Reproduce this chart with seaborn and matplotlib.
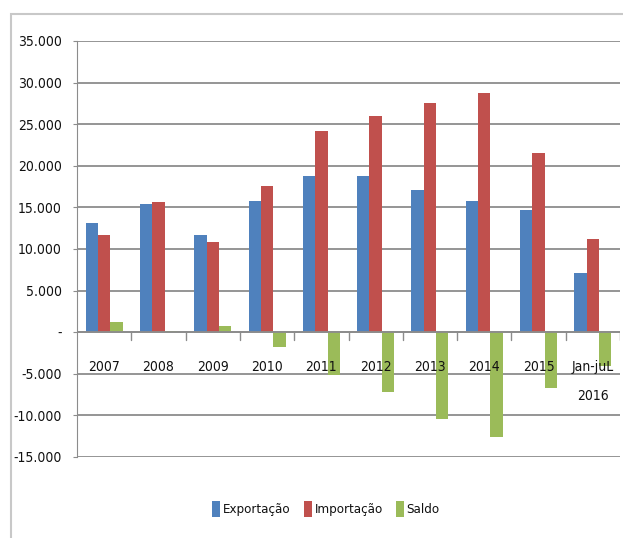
import numpy as np
import pandas as pd
import seaborn as sns
import matplotlib.pyplot as plt
from matplotlib.patches import Rectangle
from matplotlib.ticker import FuncFormatter

anos = ["2007", "2008", "2009", "2010", "2011", "2012", "2013", "2014", "2015", "Jan-juL\n2016"]
exportacao = [13100, 15400, 11700, 15800, 18800, 18800, 17100, 15800, 14700, 7100]
importacao = [11700, 15600, 10800, 17600, 24200, 26000, 27600, 28800, 21500, 11200]
saldo = [1200, 100, 700, -1800, -5100, -7200, -10400, -12600, -6700, -4100]
series = ["Exportação", "Importação", "Saldo"]
cores = ["#4F81BD", "#C0504D", "#9BBB59"]

df = pd.DataFrame({"ano": anos * 3,
                   "valor": exportacao + importacao + saldo,
                   "serie": [s for s in series for _ in anos]})

sns.set_style("white")
plt.rcParams["font.family"] = ["DejaVu Sans"]
plt.rcParams["font.stretch"] = "condensed"
fs = 10

fig = plt.figure(figsize=(6.23, 5.38), dpi=100)
ax = fig.add_axes([77 / 623, 1 - 457 / 538, 543 / 623, 416 / 538])

sns.barplot(data=df, x="ano", y="valor", hue="serie", palette=cores,
            width=0.68, ax=ax, legend=True, saturation=1, linewidth=0)

ax.set_ylim(-15000, 35000)
ax.set_xlim(-0.5, len(anos) - 0.5)
ax.set_yticks(np.arange(-15000, 35001, 5000))
ax.yaxis.set_major_formatter(FuncFormatter(
    lambda v, p: "-" if v == 0 else f"{v:,.0f}".replace(",", ".")))
ax.grid(axis="y", color="#8c8c8c", linewidth=1.3)
ax.set_axisbelow(True)
for s in ["top", "right", "bottom"]:
    ax.spines[s].set_visible(False)
ax.spines["left"].set_color("#8c8c8c")
ax.tick_params(axis="y", labelsize=fs, length=3, color="#8c8c8c", pad=8, left=True)
ax.tick_params(axis="x", length=0, labelsize=fs, pad=0)
for t in ax.get_yticklabels():
    t.set_color("#111111")
ax.set_xlabel("")
ax.set_ylabel("")

# x labels sit below the zero line, Excel-style
ax.set_xticks(range(len(anos)))
ax.set_xticklabels([])
for i, a in enumerate(anos):
    ax.text(i, -3300, a, ha="center", va="top", fontsize=fs, linespacing=2.4,
            color="#111111")
ax.axhline(0, color="#8c8c8c", linewidth=1.3)
for b in np.arange(0.5, len(anos), 1):
    ax.plot([b, b], [0, -900], color="#8c8c8c", linewidth=1)

handles, labels = ax.get_legend_handles_labels()
leg = ax.legend(handles, labels, loc="center", bbox_to_anchor=(326 / 623, 1 - 509 / 538),
                bbox_transform=fig.transFigure, ncol=3, frameon=False, fontsize=9.5,
                handlelength=0.6, handleheight=1.5, handletextpad=0.2, columnspacing=1.0)
for t in leg.get_texts():
    t.set_color("#111111")

fig.patches.append(Rectangle((11 / 623, -0.1), 1.2, 1 - 14 / 538 + 0.1,
                             transform=fig.transFigure, fill=False,
                             edgecolor="#c8c8c8", linewidth=1.5))

fig.savefig("out.png", dpi=100)
